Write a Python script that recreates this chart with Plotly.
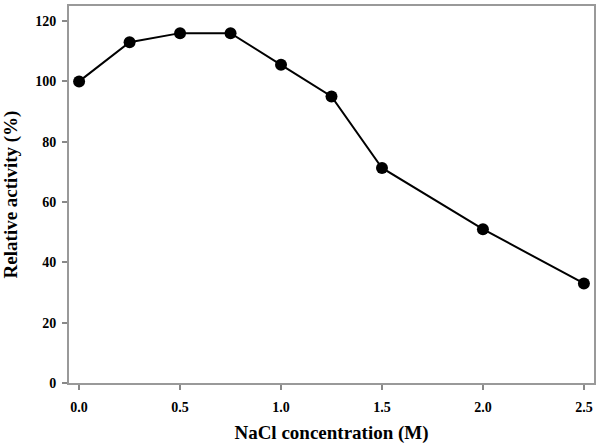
import plotly.graph_objects as go

nacl = [0.0, 0.25, 0.5, 0.75, 1.0, 1.25, 1.5, 2.0, 2.5]
activity = [100, 113, 116, 116, 105.5, 95, 71.3, 51, 33]
x_ticks = [0.0, 0.5, 1.0, 1.5, 2.0, 2.5]
x_labels = ["0.0", "0.5", "1.0", "1.5", "2.0", "2.5"]
y_ticks = [0, 20, 40, 60, 80, 100, 120]

fig = go.Figure()
fig.add_trace(go.Scatter(
    x=nacl, y=activity, mode="lines+markers",
    line=dict(color="black", width=2),
    marker=dict(color="black", size=12),
    showlegend=False,
))

fig.update_layout(
    width=600, height=444,
    margin=dict(l=69, r=6, t=6, b=61),
    paper_bgcolor="white", plot_bgcolor="white",
    font=dict(family="Liberation Serif", color="black"),
    xaxis=dict(
        range=[-0.05, 2.55], tickvals=x_ticks, ticktext=x_labels,
        ticks="outside", ticklen=5, tickcolor="#888", tickwidth=1.5,
        ticklabelstandoff=5, automargin=False,
        showline=True, linecolor="#999", linewidth=2, mirror=True,
        showgrid=False, zeroline=False,
        tickfont=dict(family="Liberation Serif", size=14, color="black", weight="bold"),
        title=dict(text="<b>NaCl concentration (M)</b>",
                   font=dict(family="Liberation Serif", size=19, color="black"),
                   standoff=14),
    ),
    yaxis=dict(
        range=[0, 125], tickvals=y_ticks,
        ticks="outside", ticklen=5, tickcolor="#888", tickwidth=1.5,
        ticklabelstandoff=3, automargin=False,
        showline=True, linecolor="#999", linewidth=2, mirror=True,
        showgrid=False, zeroline=False,
        tickfont=dict(family="Liberation Serif", size=14, color="black", weight="bold"),
        title=dict(text="<b>Relative activity (%)</b>",
                   font=dict(family="Liberation Serif", size=19, color="black"),
                   standoff=14),
    ),
)
fig.write_html("out.html", config={"displayModeBar": False},
               post_script="document.body.style.margin='0';document.body.style.padding='0';")
